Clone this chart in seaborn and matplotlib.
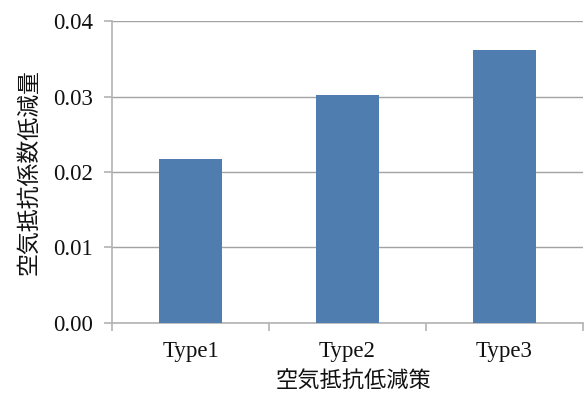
import matplotlib
matplotlib.use("Agg")
import matplotlib.pyplot as plt
import seaborn as sns
import pandas as pd
from matplotlib.ticker import FixedLocator

categories = ["Type1", "Type2", "Type3"]
reduction = [0.0217, 0.0303, 0.0362]
y_ticks = [0.00, 0.01, 0.02, 0.03, 0.04]
y_tick_labels = ["0.00", "0.01", "0.02", "0.03", "0.04"]
x_label = "空気抵抗低減策"
y_label = "空気抵抗係数低減量"

sns.set_theme(style="white")
plt.rcParams["font.family"] = ["Noto Sans CJK JP", "DejaVu Sans"]

df = pd.DataFrame({"measure": categories, "value": reduction})

fig = plt.figure(figsize=(5.84, 3.98), dpi=100)
ax = fig.add_axes([0.192, 0.189, 0.806, 0.757])

sns.barplot(data=df, x="measure", y="value", order=categories,
            color="#4F7DB0", saturation=1, width=0.4, linewidth=0,
            ax=ax, zorder=3)

grid_c = "#A3A3A3"
ax.set_ylim(0, 0.04)
ax.set_xlim(-0.5, len(categories) - 0.5)
ax.set_yticks(y_ticks)
ax.set_yticklabels(y_tick_labels)
ax.yaxis.grid(True, color=grid_c, linewidth=1.0, zorder=0)
ax.set_axisbelow(True)

for side in ["top", "right"]:
    ax.spines[side].set_visible(False)
for side in ["left", "bottom"]:
    ax.spines[side].set_color("#B3B3B3")
    ax.spines[side].set_linewidth(1.2)

# category boundary ticks on the x axis
ax.xaxis.set_minor_locator(FixedLocator([i - 0.5 for i in range(len(categories) + 1)]))
ax.tick_params(axis="x", which="major", length=0, pad=13)
ax.tick_params(axis="x", which="minor", length=6, width=1.2, color="#B3B3B3", bottom=True)
ax.tick_params(axis="y", which="major", length=6, width=1.2, color="#B3B3B3", left=True, pad=8)

for lab in ax.get_xticklabels() + ax.get_yticklabels():
    lab.set_family(["Liberation Serif", "DejaVu Serif"])
    lab.set_fontsize(16.5)
    lab.set_color("#111111")

ax.set_xlabel(x_label, fontsize=16, color="#111111")
ax.xaxis.set_label_coords(0.512, -0.155)
ax.set_ylabel(y_label, fontsize=16.5, color="#111111", labelpad=9)

fig.savefig("out.png", dpi=100)
